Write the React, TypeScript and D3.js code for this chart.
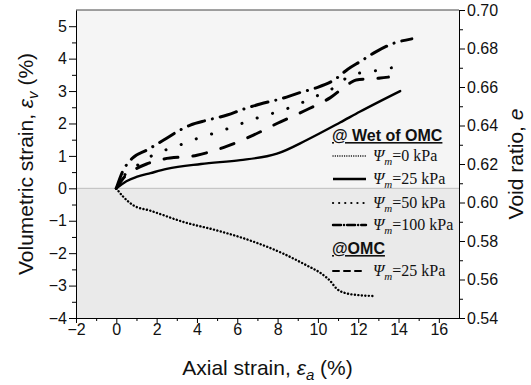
import React, { useRef, useEffect } from "react";
import * as d3 from "d3";

// [axial strain %, volumetric strain %]
const wet0kPa: [number, number][] = [
  [0, 0], [0.36, -0.27], [0.86, -0.53], [1.69, -0.69], [3.34, -1.04], [5.0, -1.3],
  [6.64, -1.61], [8.3, -2.02], [9.45, -2.38], [10.1, -2.6], [10.6, -2.85],
  [10.94, -3.1], [11.3, -3.22], [12.1, -3.3], [12.74, -3.32]
];
const wet25kPa: [number, number][] = [
  [0, 0], [0.5, 0.22], [1, 0.35], [1.7, 0.47], [2.5, 0.6], [4.2, 0.75], [6.15, 0.87],
  [7.47, 0.99], [7.97, 1.07], [9.45, 1.49], [11.1, 2.03], [12.1, 2.37], [14.08, 3.0]
];
const wet50kPa: [number, number][] = [
  [0, 0], [0.4, 0.4], [0.94, 0.66], [1.6, 0.95], [2.43, 1.18], [3.26, 1.36], [4.07, 1.55],
  [4.9, 1.71], [5.8, 1.9], [6.64, 2.1], [7.47, 2.26], [8.4, 2.44], [9.2, 2.64],
  [9.95, 2.85], [10.6, 3.03], [11.7, 3.5], [12.6, 3.6], [13.5, 3.7], [14.4, 3.8]
];
const wet100kPa: [number, number][] = [
  [0, 0], [0.3, 0.5], [0.78, 0.92], [1.52, 1.18], [2.35, 1.49], [3.17, 1.8], [3.67, 1.95],
  [4.5, 2.1], [5.5, 2.26], [6.3, 2.44], [7.14, 2.6], [8.1, 2.75], [9.1, 2.95],
  [9.87, 3.09], [10.8, 3.34], [11.5, 3.68], [12.1, 3.91], [12.85, 4.2], [13.7, 4.46], [14.66, 4.61]
];
const omc25kPa: [number, number][] = [
  [0, 0], [0.4, 0.35], [0.86, 0.56], [1.5, 0.75], [2.26, 0.89], [4.0, 1.02], [5.5, 1.3],
  [6.8, 1.64], [7.97, 2.0], [9.6, 2.47], [10.6, 2.79], [11.6, 3.25], [11.9, 3.34],
  [13.1, 3.4], [13.5, 3.43]
];

const xTicks = [-2, 0, 2, 4, 6, 8, 10, 12, 14, 16];
const yTicks = [-4, -3, -2, -1, 0, 1, 2, 3, 4, 5];
const eTicks = [0.54, 0.56, 0.58, 0.6, 0.62, 0.64, 0.66, 0.68, 0.7];

const series = [
  { name: "=0 kPa", data: wet0kPa, dash: "0.1 3.4", legendDash: "0.1 2.2", width: 2.4, legendWidth: 1.3 },
  { name: "=25 kPa", data: wet25kPa, dash: null, legendDash: null, width: 2.4, legendWidth: 2.4 },
  { name: "=50 kPa", data: wet50kPa, dash: "0.1 16", legendDash: "0.1 6", width: 3, legendWidth: 2.2 },
  { name: "=100 kPa", data: wet100kPa, dash: "17 8 0.1 8", legendDash: "8 3 0.1 3", width: 3, legendWidth: 2.4 },
  { name: "=25 kPa", data: omc25kPa, dash: "14 15", legendDash: "6 5", width: 3, legendWidth: 2 }
];

const App = () => {
  const svgRef = useRef<SVGSVGElement>(null);

  useEffect(() => {
    const svg = d3.select(svgRef.current);
    svg.selectAll("*").remove();

    const left = 76, right = 459, top = 10, bottom = 318;
    const x = d3.scaleLinear().domain([-2, 17]).range([left, right]);
    const y = d3.scaleLinear().domain([-4, 5.5]).range([bottom, top]);
    const yE = d3.scaleLinear().domain([0.54, 0.7]).range([bottom, top]);
    const sans = "Liberation Sans, Arial, sans-serif";
    const serif = "Liberation Serif, Times New Roman, serif";

    // backgrounds
    svg.append("rect").attr("x", left).attr("y", top).attr("width", right - left)
      .attr("height", y(0) - top).attr("fill", "#f5f5f5");
    svg.append("rect").attr("x", left).attr("y", y(0)).attr("width", right - left)
      .attr("height", bottom - y(0)).attr("fill", "#eaeaea");
    svg.append("line").attr("x1", left).attr("x2", right).attr("y1", y(0)).attr("y2", y(0))
      .attr("stroke", "#bdbdbd").attr("stroke-width", 1);

    // curves
    const line = d3.line<[number, number]>()
      .x(d => x(d[0])).y(d => y(d[1]))
      .curve(d3.curveMonotoneX);
    series.forEach(s => {
      svg.append("path")
        .attr("d", line(s.data))
        .attr("fill", "none")
        .attr("stroke", "#000")
        .attr("stroke-width", s.width)
        .attr("stroke-linecap", "round")
        .attr("stroke-linejoin", "round")
        .attr("stroke-dasharray", s.dash);
    });

    // top border
    svg.append("line").attr("x1", left).attr("x2", right).attr("y1", top).attr("y2", top)
      .attr("stroke", "#444").attr("stroke-width", 1);

    const styleAxis = (g: any) => {
      g.select(".domain").attr("stroke", "#000");
      g.selectAll(".tick line").attr("stroke", "#000");
      g.selectAll(".tick text").attr("fill", "#111").style("font-family", sans).style("font-size", "16px");
    };

    // bottom axis
    svg.append("g").attr("transform", `translate(0,${bottom})`)
      .call(d3.axisBottom(x).tickValues(d3.range(-1, 17, 2)).tickSize(3).tickSizeOuter(0).tickFormat(() => ""))
      .call(styleAxis);
    const gx = svg.append("g").attr("transform", `translate(0,${bottom})`)
      .call(d3.axisBottom(x).tickValues(xTicks).tickSize(5).tickSizeOuter(0).tickPadding(1))
      .call(styleAxis);
    gx.select(".domain").remove();

    // left axis
    svg.append("g").attr("transform", `translate(${left},0)`)
      .call(d3.axisLeft(y).tickValues(d3.range(-3.5, 5.5, 1)).tickSize(4).tickSizeOuter(0).tickFormat(() => ""))
      .call(styleAxis);
    const gy = svg.append("g").attr("transform", `translate(${left},0)`)
      .call(d3.axisLeft(y).tickValues(yTicks).tickSize(7).tickSizeOuter(0).tickPadding(2))
      .call(styleAxis);
    gy.select(".domain").remove();

    // right axis
    svg.append("g").attr("transform", `translate(${right},0)`)
      .call(d3.axisRight(yE).tickValues(d3.range(0.55, 0.7, 0.02)).tickSize(4).tickSizeOuter(0).tickFormat(() => ""))
      .call(styleAxis);
    const gr = svg.append("g").attr("transform", `translate(${right},0)`)
      .call(d3.axisRight(yE).tickValues(eTicks).tickSize(6).tickSizeOuter(0).tickPadding(2).tickFormat(d3.format(".2f")))
      .call(styleAxis);
    gr.select(".domain").remove();

    // axis titles
    const xt = svg.append("text").attr("x", (left + right) / 2).attr("y", 375)
      .attr("text-anchor", "middle").style("font-family", sans).style("font-size", "21px").attr("fill", "#111");
    xt.append("tspan").text("Axial strain, ");
    xt.append("tspan").text("ε").style("font-style", "italic");
    xt.append("tspan").text("a").style("font-style", "italic").style("font-size", "15px").attr("dy", 5);
    xt.append("tspan").text(" (%)").attr("dy", -5);

    const yt = svg.append("text").attr("transform", `translate(33,${(top + bottom) / 2}) rotate(-90)`)
      .attr("text-anchor", "middle").style("font-family", sans).style("font-size", "21px").attr("fill", "#111");
    yt.append("tspan").text("Volumetric strain, ");
    yt.append("tspan").text("ε").style("font-style", "italic");
    yt.append("tspan").text("v").style("font-style", "italic").style("font-size", "15px").attr("dy", 5);
    yt.append("tspan").text(" (%)").attr("dy", -5);

    const rt = svg.append("text").attr("transform", `translate(523,${(top + bottom) / 2}) rotate(-90)`)
      .attr("text-anchor", "middle").style("font-family", sans).style("font-size", "21px").attr("fill", "#111");
    rt.append("tspan").text("Void ratio, ");
    rt.append("tspan").text("e").style("font-style", "italic");

    // legend
    const header = (label: string, yy: number) => {
      svg.append("text").attr("x", 332).attr("y", yy).text(label)
        .style("font-family", sans).style("font-size", "16px").style("font-weight", "bold")
        .style("text-decoration", "underline").attr("fill", "#111");
    };
    header("@ Wet of OMC", 141);
    header("@OMC", 254);
    const rows = [156, 179, 203, 225, 271];
    series.forEach((s, i) => {
      const ry = rows[i];
      svg.append("line").attr("x1", 333).attr("x2", 366).attr("y1", ry).attr("y2", ry)
        .attr("stroke", "#000").attr("stroke-width", s.legendWidth)
        .attr("stroke-linecap", s.legendDash ? "round" : "butt")
        .attr("stroke-dasharray", s.legendDash);
      const t = svg.append("text").attr("x", 373).attr("y", ry + 5)
        .style("font-family", serif).style("font-size", "16px").attr("fill", "#111");
      t.append("tspan").text("Ψ").style("font-style", "italic");
      t.append("tspan").text("m").style("font-style", "italic").style("font-size", "11px").attr("dy", 4);
      t.append("tspan").text(s.name).attr("dy", -4);
    });
  }, []);

  return (
    <div style={{ position: "absolute", left: 0, top: 0 }}>
      <svg ref={svgRef} width={531} height={385} style={{ display: "block", background: "#fff" }}></svg>
    </div>
  );
};

export default App;
